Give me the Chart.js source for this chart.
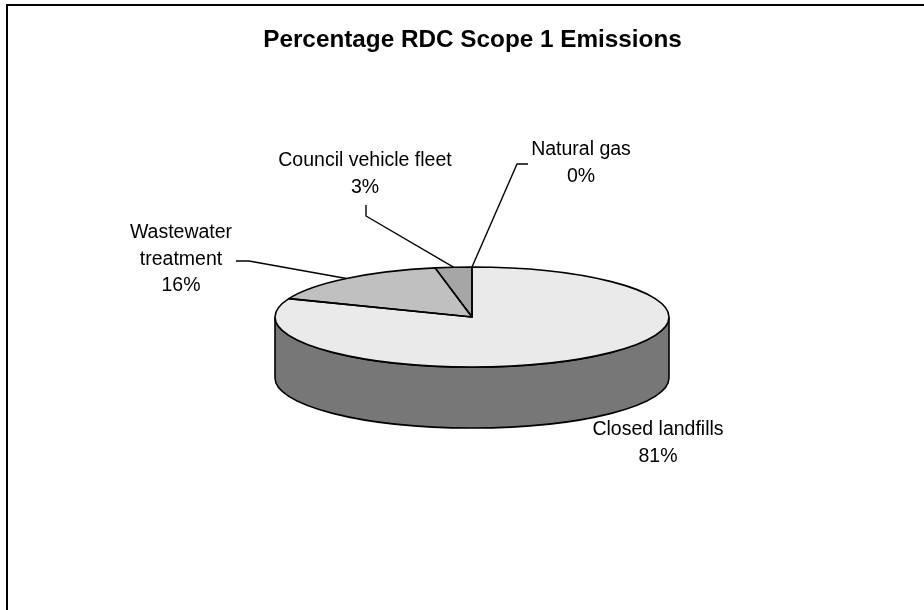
<!DOCTYPE html>
<html>
<head>
<meta charset="utf-8">
<script src="https://cdn.jsdelivr.net/npm/chart.js@4.4.0/dist/chart.umd.min.js"></script>
<style>
  html, body { margin: 0; padding: 0; background: #fff; }
  canvas { display: block; }
</style>
</head>
<body>
<canvas id="chart_Scope1" width="924" height="610"></canvas>
<script>
// data
var chartTitle = "Percentage RDC Scope 1 Emissions";
var categories = ["Closed landfills", "Wastewater treatment", "Council vehicle fleet", "Natural gas"];
var categoryLines = [["Closed landfills"], ["Wastewater", "treatment"], ["Council vehicle fleet"], ["Natural gas"]];
var emissionShares = [81, 16, 3, 0];

// look
var topColours = ["#eaeaea", "#c0c0c0", "#a6a6a6", "#8c8c8c"];
var sideColours = ["#777777", "#666666", "#595959", "#4d4d4d"];
var tilt = 50 / 197;   // flattening of the pie
var depth = 61;        // thickness of the pie wall
var labelFont = "19.5px 'Liberation Sans', Arial, sans-serif";
var lineGap = 26.5;

// where each label sits (centre x, first line y) and its leader bend points
var labelPlaces = [
    { x: 658, y: 430, leader: null },
    { x: 181, y: 233, leader: [[236, 261], [249, 261]] },
    { x: 365, y: 161, leader: [[366, 205], [366, 216]] },
    { x: 581, y: 150, leader: [[528, 164], [517, 164]] }
];

function percentText(i) {
    var total = 0;
    for (var j = 0; j < emissionShares.length; j++) total += emissionShares[j];
    return Math.round(emissionShares[i] / total * 100) + "%";
}

function arcInfo(chart, i) {
    var el = chart.getDatasetMeta(0).data[i];
    return { cx: el.x, cy: el.y, rx: el.outerRadius, ry: el.outerRadius * tilt,
             s: el.startAngle, e: el.endAngle };
}

var pie3d = {
    id: "pie3d",
    beforeDatasetsDraw: function(chart) {
        var ctx = chart.ctx;
        var n = emissionShares.length;
        // front wall, only where the slice faces the viewer (0..PI)
        for (var i = 0; i < n; i++) {
            var a = arcInfo(chart, i);
            var a0 = Math.max(a.s, 0), a1 = Math.min(a.e, Math.PI);
            if (a1 <= a0) continue;
            ctx.save();
            ctx.beginPath();
            ctx.ellipse(a.cx, a.cy, a.rx, a.ry, 0, a0, a1);
            ctx.ellipse(a.cx, a.cy + depth, a.rx, a.ry, 0, a1, a0, true);
            ctx.closePath();
            ctx.fillStyle = sideColours[i];
            ctx.fill();
            ctx.lineWidth = 1.6;
            ctx.strokeStyle = "#000";
            ctx.stroke();
            ctx.restore();
        }
        // squash the top face that chart.js draws
        var c = arcInfo(chart, 0);
        ctx.save();
        ctx.translate(c.cx, c.cy);
        ctx.scale(1, tilt);
        ctx.translate(-c.cx, -c.cy);
    },
    afterDatasetsDraw: function(chart) {
        var ctx = chart.ctx;
        ctx.restore();
        ctx.save();
        ctx.lineWidth = 1.6;
        ctx.strokeStyle = "#000";
        ctx.lineJoin = "round";
        for (var i = 0; i < emissionShares.length; i++) {
            var a = arcInfo(chart, i);
            if (a.e <= a.s) continue;
            ctx.beginPath();
            ctx.moveTo(a.cx, a.cy);
            ctx.ellipse(a.cx, a.cy, a.rx, a.ry, 0, a.s, a.e);
            ctx.closePath();
            ctx.stroke();
        }

        // labels and leader lines
        ctx.font = labelFont;
        ctx.fillStyle = "#000";
        ctx.textAlign = "center";
        ctx.textBaseline = "middle";
        ctx.lineWidth = 1.4;
        for (var k = 0; k < categories.length; k++) {
            var p = labelPlaces[k];
            var lines = categoryLines[k].concat([percentText(k)]);
            for (var m = 0; m < lines.length; m++) {
                ctx.fillText(lines[m], p.x, p.y + m * lineGap);
            }
            if (p.leader) {
                var b = arcInfo(chart, k);
                var mid = (b.s + b.e) / 2;
                var px = b.cx + b.rx * Math.cos(mid);
                var py = b.cy + b.ry * Math.sin(mid);
                ctx.beginPath();
                ctx.moveTo(p.leader[0][0], p.leader[0][1]);
                ctx.lineTo(p.leader[1][0], p.leader[1][1]);
                ctx.lineTo(px, py);
                ctx.stroke();
            }
        }
        ctx.restore();
    },
    afterDraw: function(chart) {
        var ctx = chart.ctx;
        ctx.save();
        ctx.font = "bold 24.3px 'Liberation Sans', Arial, sans-serif";
        ctx.fillStyle = "#000";
        ctx.textAlign = "center";
        ctx.textBaseline = "middle";
        ctx.fillText(chartTitle, 472.5, 40);
        // chart frame, running off the right and bottom edges
        ctx.lineWidth = 2;
        ctx.strokeStyle = "#000";
        ctx.strokeRect(7, 5, 940, 640);
        ctx.restore();
    }
};

new Chart(document.getElementById("chart_Scope1"), {
    type: "pie",
    data: {
        labels: categories,
        datasets: [{
            data: emissionShares,
            backgroundColor: topColours,
            borderWidth: 0,
            offset: 0,
            hoverOffset: 0,
            clip: false
        }]
    },
    options: {
        responsive: false,
        animation: false,
        devicePixelRatio: 1,
        rotation: 0,
        layout: { padding: { left: 275, right: 255, top: 120, bottom: 96 } },
        plugins: {
            legend: { display: false },
            title: { display: false },
            tooltip: { enabled: false }
        },
        events: []
    },
    plugins: [pie3d]
});
</script>
</body>
</html>
